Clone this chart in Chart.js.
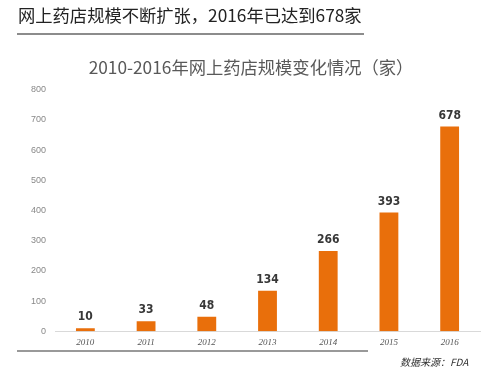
<!DOCTYPE html>
<html>
<head>
<meta charset="utf-8">
<script src="https://cdn.jsdelivr.net/npm/chart.js@4/dist/chart.umd.min.js"></script>
<style>
    html, body { margin: 0; padding: 0; background: #fff; }
    #wrap { width: 498px; height: 368px; position: relative; }
</style>
</head>
<body>
<div id="wrap"><canvas id="scaleChart"></canvas></div>
<script>
const years = ["2010", "2011", "2012", "2013", "2014", "2015", "2016"];
const stores = [10, 33, 48, 134, 266, 393, 678];
const yTicks = [0, 100, 200, 300, 400, 500, 600, 700, 800];

const headerTitle = "网上药店规模不断扩张，2016年已达到678家";
const chartTitle = "2010-2016年网上药店规模变化情况（家）";
const sourceNote = "数据来源：FDA";

const cjk = '"Noto Sans CJK SC", "Noto Sans", sans-serif';

// header, separator lines, source note and value labels
const decorPlugin = {
    id: "decor",
    afterDraw: function (chart) {
        const ctx = chart.ctx;
        ctx.save();
        ctx.fillStyle = "#222";
        ctx.font = "17.3px " + cjk;
        ctx.textBaseline = "middle";
        ctx.textAlign = "left";
        ctx.fillText(headerTitle, 18, 15);
        ctx.strokeStyle = "#8c8c8c";
        ctx.lineWidth = 2;
        ctx.beginPath();
        ctx.moveTo(17, 34);
        ctx.lineTo(364, 34);
        ctx.stroke();

        ctx.strokeStyle = "#777";
        ctx.lineWidth = 1.5;
        ctx.beginPath();
        ctx.moveTo(17, 351);
        ctx.lineTo(368, 351);
        ctx.stroke();

        ctx.fillStyle = "#333";
        ctx.font = "italic 10px " + cjk;
        ctx.textAlign = "left";
        ctx.fillText(sourceNote, 400, 362);

        // bar value labels
        const meta = chart.getDatasetMeta(0);
        ctx.fillStyle = "#383838";
        ctx.font = 'bold 12px "Liberation Sans Narrow", "DejaVu Sans Condensed", sans-serif';
        ctx.textAlign = "center";
        ctx.textBaseline = "bottom";
        meta.data.forEach(function (bar, i) {
            ctx.fillText(String(stores[i]), bar.x, bar.y - 5);
        });
        ctx.restore();
    },
};

const ctx = document.getElementById("scaleChart").getContext("2d");
const scaleChart = new Chart(ctx, {
    type: "bar",
    data: {
        labels: years,
        datasets: [
            {
                data: stores,
                backgroundColor: "#e96f0b",
                borderWidth: 0,
                categoryPercentage: 1,
                barPercentage: 0.31,
            },
        ],
    },
    options: {
        responsive: true,
        maintainAspectRatio: false,
        animation: false,
        layout: {
            padding: { top: 8, left: 22, right: 18, bottom: 14 },
        },
        plugins: {
            legend: { display: false },
            tooltip: { enabled: false },
            title: {
                display: true,
                text: chartTitle,
                color: "#595959",
                font: { family: cjk, size: 17.3, weight: "normal" },
                padding: { top: 49, bottom: 12 },
            },
        },
        scales: {
            y: {
                min: 0,
                max: 800,
                afterBuildTicks: function (scale) {
                    scale.ticks = yTicks.map(function (v) { return { value: v }; });
                },
                grid: { display: false, drawTicks: false },
                border: { display: false },
                ticks: {
                    color: "#888",
                    font: { family: '"Liberation Sans", sans-serif', size: 9 },
                    padding: 9,
                },
            },
            x: {
                grid: { display: false, drawTicks: false },
                border: { display: true, color: "#d9d9d9", width: 1 },
                ticks: {
                    color: "#555",
                    font: { family: '"Liberation Serif", serif', size: 9, style: "italic" },
                    padding: 6,
                },
            },
        },
    },
    plugins: [decorPlugin],
});
</script>
</body>
</html>
